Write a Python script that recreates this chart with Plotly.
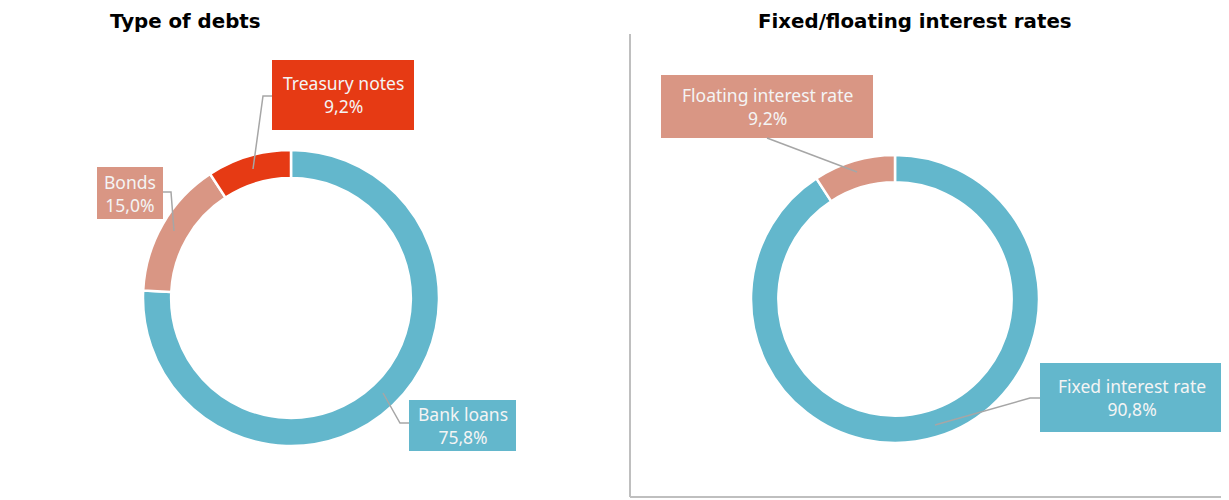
import plotly.graph_objects as go

W, H = 1229, 500
OFF = 8  # page body margin
FW, FH = W, H

# data
debt_labels = ["Bank loans", "Bonds", "Treasury notes"]
debt_values = [75.8, 15.0, 9.2]
debt_colors = ["#63B7CC", "#D99684", "#E63A14"]

rate_labels = ["Fixed interest rate", "Floating interest rate"]
rate_values = [90.8, 9.2]
rate_colors = ["#63B7CC", "#D99684"]

titles = ["Type of debts", "Fixed/floating interest rates"]


def fmt(v):
    return f"{v:.1f}%".replace(".", ",")


def px(x):
    return (x - OFF) / FW


def py(y):
    return 1 - (y - OFF) / FH


def dom(cx, cy, r):
    return dict(x=[px(cx - r), px(cx + r)], y=[py(cy + r), py(cy - r)])


fig = go.Figure()
fig.add_trace(go.Pie(labels=debt_labels, values=debt_values, sort=False, direction="clockwise",
                     rotation=0, hole=0.81, textinfo="none", hoverinfo="label+percent",
                     marker=dict(colors=debt_colors, line=dict(color="white", width=2.5)),
                     domain=dom(291, 298, 148), showlegend=False))
fig.add_trace(go.Pie(labels=rate_labels, values=rate_values, sort=False, direction="clockwise",
                     rotation=0, hole=0.81, textinfo="none", hoverinfo="label+percent",
                     marker=dict(colors=rate_colors, line=dict(color="white", width=2.5)),
                     domain=dom(895, 299, 144), showlegend=False))

shapes = []
annotations = []


def line(pts, color, width):
    path = "M " + " L ".join(f"{px(x):.5f},{py(y):.5f}" for x, y in pts)
    return dict(type="path", path=path, xref="paper", yref="paper",
                line=dict(color=color, width=width), layer="above")


# frame lines
gray = "#BFBFBF"
shapes.append(line([(630, 34), (630, 497)], gray, 2))
shapes.append(line([(630, 497), (1229, 497)], gray, 2))

# titles
title_font = dict(family="DejaVu Sans", size=19.8, color="#000000", weight="bold")
annotations.append(dict(x=px(185), y=py(21), xref="paper", yref="paper", text=titles[0],
                        showarrow=False, xanchor="center", yanchor="middle", borderpad=0,
                        font=title_font))
annotations.append(dict(x=px(915), y=py(21), xref="paper", yref="paper", text=titles[1],
                        showarrow=False, xanchor="center", yanchor="middle", borderpad=0,
                        font=title_font))

# label boxes: (label, value, color, box x0, y0, x1, y1)
boxes = [
    (debt_labels[2], debt_values[2], debt_colors[2], 272, 60, 414, 130),
    (debt_labels[1], debt_values[1], debt_colors[1], 97, 167, 163, 219),
    (debt_labels[0], debt_values[0], debt_colors[0], 409, 400, 516, 451),
    (rate_labels[1], rate_values[1], rate_colors[1], 661, 75, 873, 138),
    (rate_labels[0], rate_values[0], rate_colors[0], 1040, 363, 1224, 432),
]
for lab, val, col, x0, y0, x1, y1 in boxes:
    shapes.append(dict(type="rect", xref="paper", yref="paper",
                       x0=px(x0), x1=px(x1), y0=py(y1), y1=py(y0), fillcolor=col,
                       line=dict(width=0), layer="above"))
    annotations.append(dict(x=px((x0 + x1) / 2), y=py((y0 + y1) / 2), xref="paper", yref="paper",
                            text=f"{lab}<br>{fmt(val)}", showarrow=False, align="center",
                            xanchor="center", yanchor="middle",
                            font=dict(family="Noto Sans", size=17.5, color="#F4F4F4")))

# leader lines
lg = "#A6A6A6"
leaders = [
    [(253, 169), (263, 96), (272, 96)],
    [(163, 192), (171, 192), (174, 231)],
    [(383, 393), (400, 423), (409, 423)],
    [(767, 138), (857, 172)],
    [(935, 425), (1030, 398), (1040, 398)],
]
for pts in leaders:
    shapes.append(line(pts, lg, 1.5))

fig.update_layout(
    width=FW, height=FH, margin=dict(l=0, r=0, t=0, b=0),
    paper_bgcolor="white", plot_bgcolor="rgba(0,0,0,0)",
    shapes=shapes, annotations=annotations, showlegend=False,
)
fig.write_html("out.html", config={"displayModeBar": False})
